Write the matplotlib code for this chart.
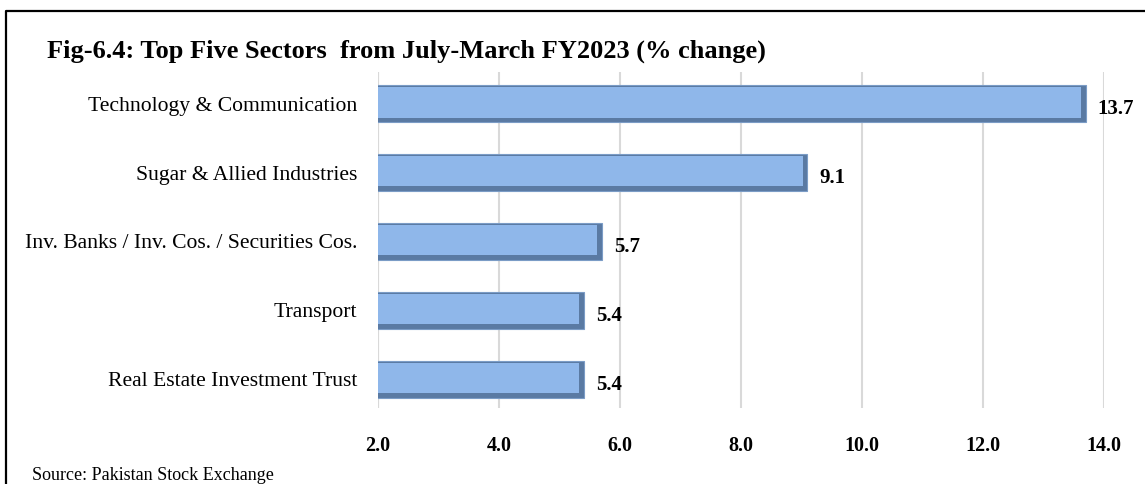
import matplotlib.pyplot as plt
from matplotlib.lines import Line2D

sectors = ["Technology & Communication", "Sugar & Allied Industries",
           "Inv. Banks / Inv. Cos. / Securities Cos.", "Transport",
           "Real Estate Investment Trust"]
change = [13.7, 9.1, 5.7, 5.4, 5.4]
ticks = [2.0, 4.0, 6.0, 8.0, 10.0, 12.0, 14.0]

fig = plt.figure(figsize=(11.45, 4.84), dpi=100)
ax = fig.add_axes([0.330, 0.157, 0.634, 0.694])

y = list(range(len(sectors)))
h = 0.54
# bevelled look: dark base, lighter face on top
ax.barh(y, change, height=h, color="#5a7aa3", edgecolor="#7b9cc6", linewidth=0.8, zorder=2)
ax.barh([v - 0.02 for v in y], [c - 0.07 for c in change], height=h - 0.1,
        color="#8fb7ea", linewidth=0, zorder=3)

for yi, c in zip(y, change):
    ax.text(c + 0.2, yi + 0.08, f"{c:.1f}", ha="left", va="center",
            fontsize=15, fontweight="bold", family="Liberation Serif", zorder=4)

ax.set_xlim(2, 14)
ax.set_ylim(len(sectors) - 0.58, -0.46)
ax.set_xticks(ticks)
ax.set_xticklabels([f"{t:.1f}" for t in ticks], fontsize=14.5, fontweight="bold",
                   family="Liberation Serif")
ax.set_yticks(y)
ax.set_yticklabels(sectors, fontsize=15.6, family="Liberation Serif")
ax.tick_params(axis="both", length=0)
ax.tick_params(axis="x", pad=20)
ax.tick_params(axis="y", pad=15)
ax.grid(axis="x", color="#d9d9d9", linewidth=1.5, zorder=0)
for s in ax.spines.values():
    s.set_visible(False)
ax.axvline(2, color="#d9d9d9", linewidth=1.5, zorder=1)

fig.text(0.041, 0.882, "Fig-6.4: Top Five Sectors  from July-March FY2023 (% change)",
         fontsize=19, fontweight="bold", family="Liberation Serif", va="baseline")
fig.text(0.028, 0.008, "Source: Pakistan Stock Exchange", fontsize=13,
         family="Liberation Serif")

fig.add_artist(Line2D([0.0055, 0.0055, 1.0], [0.0, 0.977, 0.977],
                      transform=fig.transFigure, color="black", linewidth=1.6))

fig.savefig("out.png", dpi=100)
